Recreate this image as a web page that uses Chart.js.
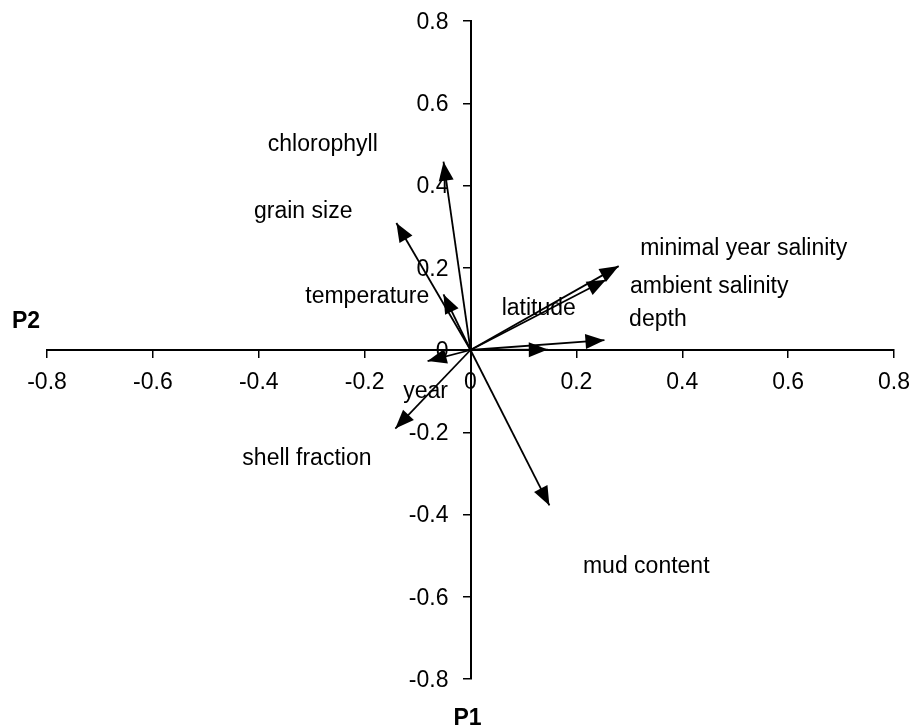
<!DOCTYPE html>
<html>
<head>
<meta charset="utf-8">
<title>PCA biplot</title>
<script src="https://cdn.jsdelivr.net/npm/chart.js@4"></script>
<style>
  html, body { margin: 0; padding: 0; background: #fff; }
  #wrap { width: 915px; height: 726px; }
</style>
</head>
<body>
<div id="wrap"><canvas id="biplot" width="915" height="726"></canvas></div>
<script>
// loadings
const variables = ["chlorophyll", "grain size", "temperature", "latitude",
  "minimal year salinity", "ambient salinity", "depth", "year",
  "shell fraction", "mud content"];
const p1 = [-0.051, -0.140, -0.051, 0.146, 0.280, 0.256, 0.253, -0.081, -0.142, 0.149];
const p2 = [0.458, 0.309, 0.135, 0.001, 0.204, 0.171, 0.024, -0.027, -0.191, -0.378];
const tickValues = [-0.8, -0.6, -0.4, -0.2, 0, 0.2, 0.4, 0.6, 0.8];
const axisTitles = { x: "P1", y: "P2" };

// where each label sits (in axis units), kept apart from the data
const labelAt = [
  [-0.279, 0.500], [-0.316, 0.337], [-0.195, 0.130], [0.129, 0.100],
  [0.516, 0.246], [0.451, 0.153], [0.354, 0.073], [-0.085, -0.101],
  [-0.309, -0.263], [0.332, -0.526]
];

const FONT = '"Liberation Sans", Arial, sans-serif';
const fmt = (v) => String(Math.round(v * 10) / 10);

const datasets = variables.map((name, i) => ({
  label: name,
  data: [{ x: 0, y: 0 }, { x: p1[i], y: p2[i] }],
  showLine: true,
  borderColor: "#000",
  borderWidth: 1.8,
  pointRadius: 0,
  pointHoverRadius: 0,
}));

// arrowheads + free text labels
const arrowLabels = {
  id: "arrowLabels",
  beforeDatasetsDraw(chart) {
    // y tick labels sit left of the tick marks (Chart.js puts them on the line)
    const ctx = chart.ctx;
    const xs = chart.scales.x, ys = chart.scales.y;
    const x0 = xs.getPixelForValue(0);
    ctx.save();
    ctx.font = "23px " + FONT;
    ctx.fillStyle = "#000";
    ctx.textAlign = "right";
    ctx.textBaseline = "middle";
    ys.ticks.forEach((t) => {
      ctx.fillText(fmt(t.value), x0 - 22, ys.getPixelForValue(t.value) + 1.5);
    });
    ctx.restore();
  },
  afterDatasetsDraw(chart) {
    const ctx = chart.ctx;
    const xs = chart.scales.x, ys = chart.scales.y;
    ctx.save();
    chart.data.datasets.forEach((ds, i) => {
      const pts = chart.getDatasetMeta(i).data;
      const a = pts[0], b = pts[1];
      let dx = b.x - a.x, dy = b.y - a.y;
      const len = Math.hypot(dx, dy) || 1;
      dx /= len; dy /= len;
      const L = 19, W = 7.5;
      ctx.beginPath();
      ctx.moveTo(b.x, b.y);
      ctx.lineTo(b.x - L * dx - W * dy, b.y - L * dy + W * dx);
      ctx.lineTo(b.x - L * dx + W * dy, b.y - L * dy - W * dx);
      ctx.closePath();
      ctx.fillStyle = "#000";
      ctx.fill();
    });

    ctx.font = "23px " + FONT;
    ctx.fillStyle = "#000";
    ctx.textAlign = "center";
    ctx.textBaseline = "middle";
    variables.forEach((name, i) => {
      ctx.fillText(name, xs.getPixelForValue(labelAt[i][0]), ys.getPixelForValue(labelAt[i][1]));
    });

    // axis titles, Excel style
    const area = chart.chartArea;
    ctx.font = "bold 23px " + FONT;
    ctx.textBaseline = "alphabetic";
    ctx.fillText(axisTitles.y, area.left - 21, ys.getPixelForValue(0) - 22);
    ctx.fillText(axisTitles.x, xs.getPixelForValue(0) - 3, area.bottom + 46);
    ctx.restore();
  }
};

// keep the label overhang from shrinking the plot area
const noOverhang = (s) => {
  s.paddingLeft = 0; s.paddingRight = 0; s.paddingTop = 0; s.paddingBottom = 0;
};

new Chart(document.getElementById("biplot"), {
  type: "scatter",
  data: { datasets: datasets },
  options: {
    responsive: false,
    animation: false,
    events: [],
    layout: { padding: { left: 47, right: 21, top: 21, bottom: 47 } },
    plugins: { legend: { display: false }, tooltip: { enabled: false } },
    scales: {
      x: {
        type: "linear",
        min: -0.8,
        max: 0.8,
        position: { y: 0 },
        afterBuildTicks: (s) => { s.ticks = tickValues.map((v) => ({ value: v })); },
        afterFit: noOverhang,
        grid: { drawOnChartArea: false, drawTicks: true, tickLength: 7, color: "#000", lineWidth: 1.5 },
        border: { display: true, color: "#000", width: 2 },
        ticks: {
          padding: 12, maxRotation: 0, autoSkip: false, color: "#000",
          font: { family: FONT, size: 23 }, callback: fmt,
        },
      },
      y: {
        type: "linear",
        min: -0.8,
        max: 0.8,
        position: { x: 0 },
        afterBuildTicks: (s) => { s.ticks = tickValues.map((v) => ({ value: v })); },
        afterFit: noOverhang,
        grid: { drawOnChartArea: false, drawTicks: true, tickLength: 7, color: "#000", lineWidth: 1.5 },
        border: { display: true, color: "#000", width: 2 },
        ticks: { display: false },
      },
    },
  },
  plugins: [arrowLabels],
});
</script>
</body>
</html>
